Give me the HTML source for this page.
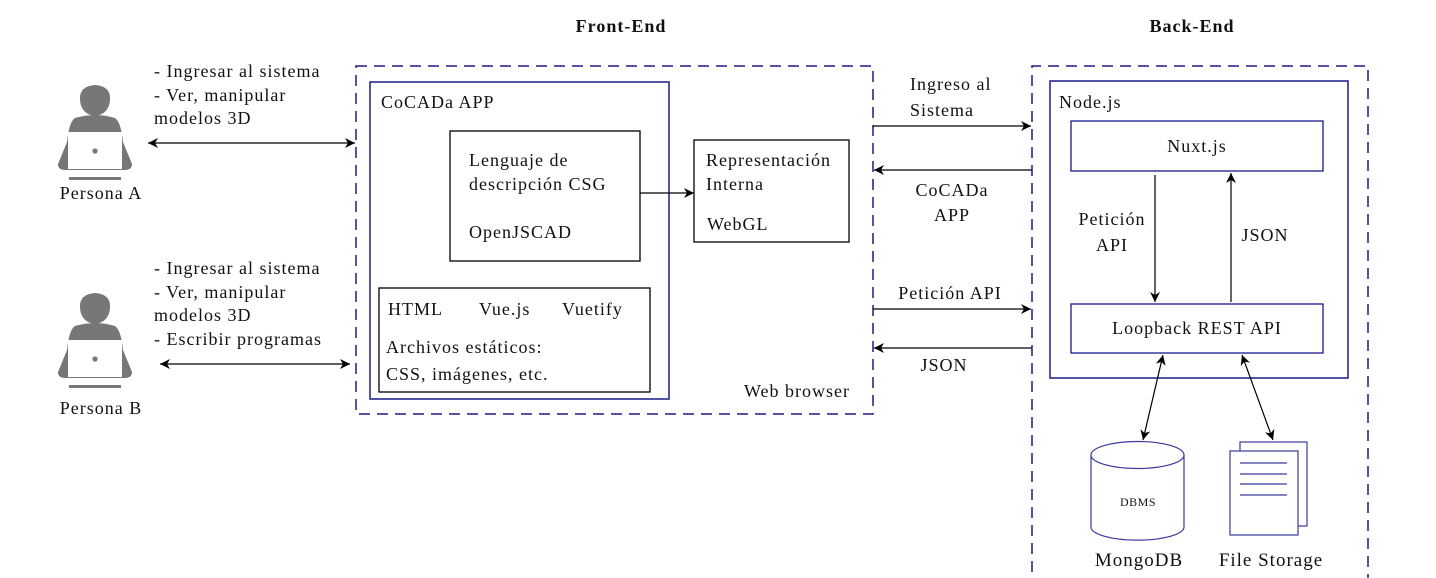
<!DOCTYPE html>
<html><head><meta charset="utf-8"><style>
html,body{margin:0;padding:0;background:#fff}
svg{display:block}
text{font-family:"Liberation Serif","DejaVu Serif",serif;font-size:18px;letter-spacing:1px;fill:#111}
</style></head><body>
<svg width="1436" height="578" viewBox="0 0 1436 578" xmlns="http://www.w3.org/2000/svg">
<defs>
<marker id="a" viewBox="0 0 10 10" refX="10" refY="5" markerWidth="11" markerHeight="10" orient="auto-start-reverse" markerUnits="userSpaceOnUse"><path d="M0,0 L10,5 L0,10 L3,5 z" fill="#000"/></marker>
<g id="p">
<path d="M-15,-2 Q-16,-16 0,-17 Q16,-16 15,-2 Q14,12 0,14 Q-14,12 -15,-2 z" fill="#777"/>
<path d="M-20,16 Q-26,20 -28,40 L-37,62 Q-37,68 -30,68 L30,68 Q37,68 37,62 L28,40 Q26,20 20,16 Q0,10 -20,16 z" fill="#777"/>
<rect x="-27" y="30" width="54" height="37" fill="#fff"/>
<circle cx="0" cy="49" r="2.6" fill="#777"/>
<rect x="-26" y="75" width="52" height="3" fill="#777"/>
</g>
</defs>
<text x="621" y="32" text-anchor="middle" font-weight="bold">Front-End</text>
<text x="1192" y="32" text-anchor="middle" font-weight="bold">Back-End</text>

<use href="#p" x="95" y="102"/>
<text x="101" y="199" text-anchor="middle">Persona A</text>
<use href="#p" x="95" y="310"/>
<text x="101" y="414" text-anchor="middle">Persona B</text>

<text x="154" y="77">- Ingresar al sistema</text>
<text x="154" y="101">- Ver, manipular</text>
<text x="154" y="124">modelos 3D</text>
<line x1="148" y1="143" x2="355" y2="143" stroke="#000" stroke-width="1.2" marker-start="url(#a)" marker-end="url(#a)"/>
<text x="154" y="274">- Ingresar al sistema</text>
<text x="154" y="298">- Ver, manipular</text>
<text x="154" y="321">modelos 3D</text>
<text x="154" y="345">- Escribir programas</text>
<line x1="160" y1="364" x2="350" y2="364" stroke="#000" stroke-width="1.2" marker-start="url(#a)" marker-end="url(#a)"/>

<rect x="356" y="66" width="517" height="348" fill="none" stroke="#1a1a8c" stroke-width="1.5" stroke-dasharray="11,7"/>
<rect x="370" y="82" width="299" height="317" fill="none" stroke="#1a1a8c" stroke-width="1.5"/>
<text x="381" y="108">CoCADa APP</text>
<rect x="450" y="131" width="190" height="130" fill="none" stroke="#000" stroke-width="1.3"/>
<text x="469" y="166">Lenguaje de</text>
<text x="469" y="190">descripción CSG</text>
<text x="469" y="238">OpenJSCAD</text>
<line x1="640" y1="193" x2="694" y2="193" stroke="#000" stroke-width="1.2" marker-end="url(#a)"/>
<rect x="694" y="140" width="155" height="102" fill="none" stroke="#000" stroke-width="1.3"/>
<text x="706" y="166">Representación</text>
<text x="706" y="190">Interna</text>
<text x="707" y="230">WebGL</text>
<rect x="379" y="288" width="271" height="104" fill="none" stroke="#000" stroke-width="1.3"/>
<text x="388" y="315">HTML</text>
<text x="479" y="315">Vue.js</text>
<text x="562" y="315">Vuetify</text>
<text x="386" y="353">Archivos estáticos:</text>
<text x="386" y="380">CSS, imágenes, etc.</text>
<text x="850" y="397" text-anchor="end">Web browser</text>

<text x="910" y="90">Ingreso al</text>
<text x="910" y="116">Sistema</text>
<line x1="873" y1="126" x2="1031" y2="126" stroke="#000" stroke-width="1.2" marker-end="url(#a)"/>
<line x1="1032" y1="170" x2="874" y2="170" stroke="#000" stroke-width="1.2" marker-end="url(#a)"/>
<text x="952" y="196" text-anchor="middle">CoCADa</text>
<text x="952" y="221" text-anchor="middle">APP</text>
<text x="950" y="299" text-anchor="middle">Petición API</text>
<line x1="873" y1="309" x2="1031" y2="309" stroke="#000" stroke-width="1.2" marker-end="url(#a)"/>
<line x1="1032" y1="348" x2="874" y2="348" stroke="#000" stroke-width="1.2" marker-end="url(#a)"/>
<text x="944" y="371" text-anchor="middle">JSON</text>

<path d="M1032,590 L1032,66 L1368,66 L1368,590" fill="none" stroke="#1a1a8c" stroke-width="1.5" stroke-dasharray="11,7"/>
<rect x="1050" y="81" width="298" height="297" fill="none" stroke="#1a1a8c" stroke-width="1.5"/>
<text x="1059" y="108">Node.js</text>
<rect x="1071" y="121" width="252" height="50" fill="none" stroke="#1a1a8c" stroke-width="1.3"/>
<text x="1197" y="152" text-anchor="middle">Nuxt.js</text>
<rect x="1071" y="304" width="252" height="49" fill="none" stroke="#1a1a8c" stroke-width="1.3"/>
<text x="1197" y="334" text-anchor="middle">Loopback REST API</text>
<line x1="1155" y1="175" x2="1155" y2="302" stroke="#000" stroke-width="1.2" marker-end="url(#a)"/>
<line x1="1231" y1="302" x2="1231" y2="173" stroke="#000" stroke-width="1.2" marker-end="url(#a)"/>
<text x="1112" y="225" text-anchor="middle">Petición</text>
<text x="1112" y="251" text-anchor="middle">API</text>
<text x="1265" y="241" text-anchor="middle">JSON</text>

<line x1="1163" y1="355" x2="1143" y2="440" stroke="#000" stroke-width="1.2" marker-start="url(#a)" marker-end="url(#a)"/>
<line x1="1242" y1="355" x2="1273" y2="440" stroke="#000" stroke-width="1.2" marker-start="url(#a)" marker-end="url(#a)"/>

<path d="M1091,455 L1091,527 A46,13 0 0 0 1184,527 L1184,455" fill="#fff" stroke="#3a3aa0" stroke-width="1.2"/>
<ellipse cx="1137.5" cy="455" rx="46.5" ry="13.5" fill="#fff" stroke="#3a3aa0" stroke-width="1.2"/>
<text x="1138" y="506" text-anchor="middle" style="font-size:12px;letter-spacing:0.5px">DBMS</text>
<rect x="1240" y="442" width="67" height="84" fill="#fff" stroke="#3a3aa0" stroke-width="1.2"/>
<rect x="1230" y="451" width="68" height="84" fill="#fff" stroke="#3a3aa0" stroke-width="1.2"/>
<g stroke="#3a3aa0" stroke-width="1.2">
<line x1="1240" y1="463" x2="1287" y2="463"/>
<line x1="1240" y1="474" x2="1287" y2="474"/>
<line x1="1240" y1="484" x2="1287" y2="484"/>
<line x1="1240" y1="495" x2="1287" y2="495"/>
</g>
<text x="1139" y="566" text-anchor="middle" style="font-size:19px">MongoDB</text>
<text x="1271" y="566" text-anchor="middle" style="font-size:19px">File Storage</text>
</svg>
</body></html>
